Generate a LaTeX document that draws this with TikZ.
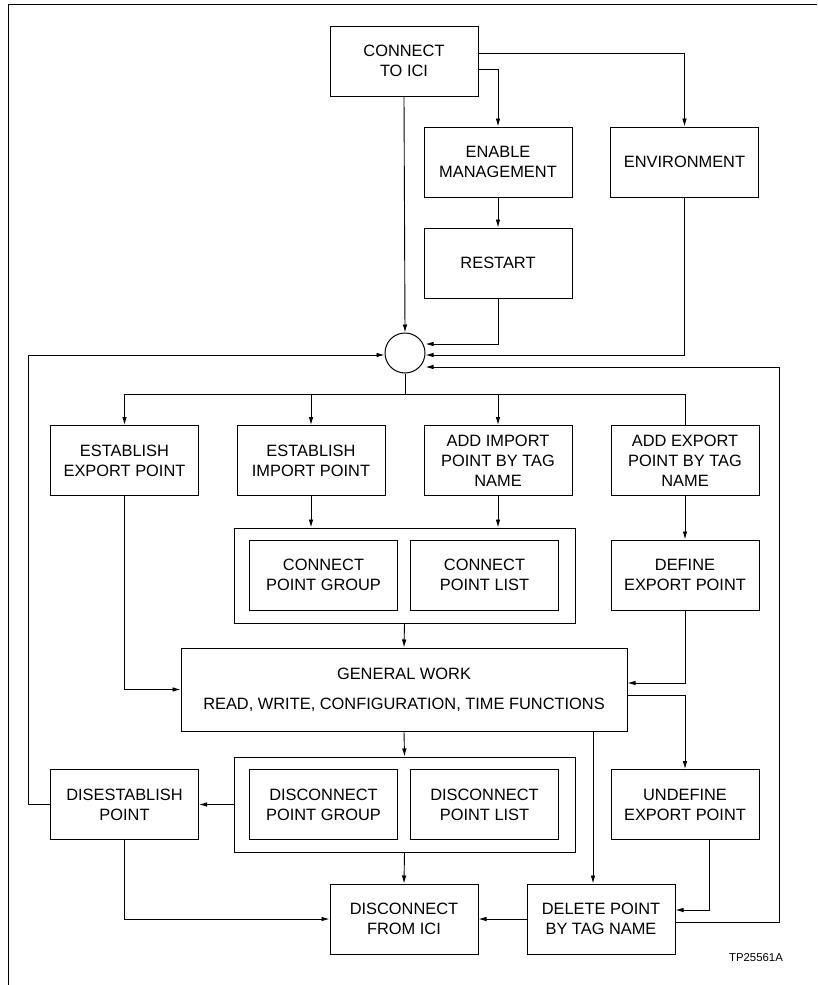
\documentclass[tikz,border=0pt]{standalone}
\usepackage{fontspec}
\setmainfont{Liberation Sans}
\usetikzlibrary{arrows.meta,calc}
\begin{document}
\begin{tikzpicture}[x=1pt,y=-1pt,
  every node/.style={font=\fontsize{16.4}{20}\selectfont},
  box/.style={draw,line width=1pt,minimum width=148pt,minimum height=70pt,
    inner sep=0pt,align=center},
  group/.style={draw,line width=1pt,minimum width=341pt,minimum height=95pt,inner sep=0pt},
  link/.style={line width=0.9pt},
  arr/.style={link,-{Latex[length=8pt,width=4.6pt]}}]
\useasboundingbox (0,0) rectangle (817,985);

% border
\draw[line width=1pt] (817,4) -- (8,4) -- (8,985);

% nodes
\node[box] (cti) at (404,61) {CONNECT\\TO ICI};
\node[box] (enm) at (498,162) {ENABLE\\MANAGEMENT};
\node[box] (env) at (684.5,162) {ENVIRONMENT};
\node[box] (rst) at (498,263) {RESTART};
\node[draw,circle,line width=1pt,minimum size=40pt,inner sep=0pt] (circ) at (405,353) {};

\node[box] (eep) at (124.5,460.5) {ESTABLISH\\EXPORT POINT};
\node[box] (eip) at (311,460.5) {ESTABLISH\\IMPORT POINT};
\node[box] (aip) at (498,460.5) {ADD IMPORT\\POINT BY TAG\\NAME};
\node[box] (aep) at (685,460.5) {ADD EXPORT\\POINT BY TAG\\NAME};

\node[group] (cgrp) at (404.5,575.5) {};
\node[box] (cpg) at (323.5,575) {CONNECT\\POINT GROUP};
\node[box] (cpl) at (484.5,575) {CONNECT\\POINT LIST};
\node[box] (dep) at (685,575) {DEFINE\\EXPORT POINT};

\node[box,minimum width=446pt,minimum height=83pt] (gw) at (404,689.5)
  {GENERAL WORK\\[10pt]READ, WRITE, CONFIGURATION, TIME FUNCTIONS};

\node[group] (dgrp) at (404.5,804.5) {};
\node[box] (dpg) at (323.5,804.5) {DISCONNECT\\POINT GROUP};
\node[box] (dpl) at (484.5,804.5) {DISCONNECT\\POINT LIST};
\node[box] (dis) at (124.5,804.5) {DISESTABLISH\\POINT};
\node[box] (udp) at (685,804.5) {UNDEFINE\\EXPORT POINT};

\node[box] (dfi) at (404,919) {DISCONNECT\\FROM ICI};
\node[box] (dpt) at (601,919) {DELETE POINT\\BY TAG NAME};

\node[font=\fontsize{11.4}{13}\selectfont] (tag) at (756,957.5) {TP25561A};

% connectors from CONNECT TO ICI
\draw[arr] ([yshift=8pt]cti.east) -| (env.north);
\draw[arr] ([yshift=-8pt]cti.east) -| (enm.north);
\draw[arr] (cti.south) -- (circ.north);
\draw[arr] (enm.south) -- (rst.north);
\draw[arr] (rst.south) |- ([yshift=9pt]circ.east);
\draw[arr] (env.south) |- ([yshift=-2pt]circ.east);

% distribution below the junction
\draw[link] (circ.south) -- ++(0,21) coordinate (split);
\draw[arr] (split) -| (eep.north);
\draw[arr] (split) -| (eip.north);
\draw[arr] (split) -| (aip.north);
\draw[link] (split) -| (aep.north);

\draw[arr] (eip.south) -- (eip.south |- cgrp.north);
\draw[arr] (aip.south) -- (aip.south |- cgrp.north);
\draw[arr] (aep.south) -- (dep.north);
\draw[arr] (cgrp.south) -- (gw.north);
\draw[arr] (eep.south) |- (gw.west);
\draw[arr] (dep.south) |- ([yshift=6.5pt]gw.east);

% below general work
\draw[arr] ([yshift=-5.5pt]gw.east) -| (udp.north);
\draw[arr] (gw.south) -- (dgrp.north);
\path ([xshift=-8pt]dpt.north) coordinate (dptin);
\draw[arr] (gw.south -| dptin) -- (dptin);
\draw[arr] (dgrp.west) -- (dis.east);
\draw[arr] (dgrp.south) -- (dfi.north);
\draw[arr] (dis.south) |- (dfi.west);
\draw[arr] (dpt.west) -- (dfi.east);
\draw[arr] ([xshift=24pt]udp.south) |- ([yshift=9pt]dpt.east);

% return loops to the junction
\draw[arr] (dis.west) -- ++(-21.5,0) |- ([yshift=-2pt]circ.west);
\draw[arr] ([yshift=-3pt]dpt.east) -- ++(104,0) |- ([yshift=-14pt]circ.east);
\end{tikzpicture}
\end{document}
